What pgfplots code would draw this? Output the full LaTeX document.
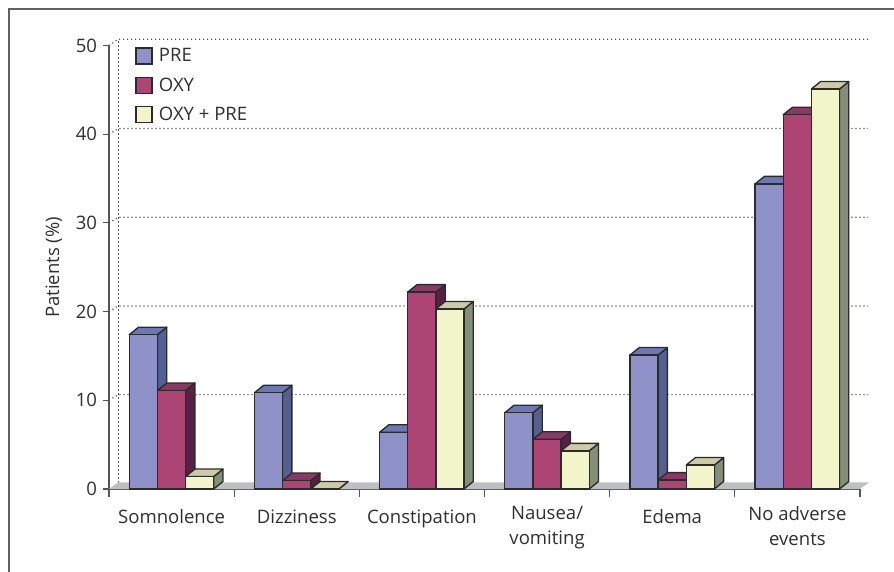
\documentclass[border=0pt]{standalone}
\usepackage{pgfplots}
\pgfplotsset{compat=1.18}
\usepackage{fontspec}
\setmainfont{Open Sans}
\definecolor{txt}{HTML}{2F2F2F}
\definecolor{edge}{HTML}{2B2B2B}
\definecolor{axc}{HTML}{555555}
\definecolor{floorc}{HTML}{BEBFC0}
\definecolor{aF}{HTML}{8E92C8}\definecolor{aS}{HTML}{556092}\definecolor{aT}{HTML}{6C78B4}
\definecolor{bF}{HTML}{AC4474}\definecolor{bS}{HTML}{5A1F45}\definecolor{bT}{HTML}{883A66}
\definecolor{cF}{HTML}{F2F4CA}\definecolor{cS}{HTML}{858F77}\definecolor{cT}{HTML}{CECAA8}
% depth of the 3D offset, in axis units
\def\dX{0.0743}
\def\dY{0.846}
\def\bW{0.2248}
\newcommand{\tdbar}[3]{% left x, value, colour letter
  \pgfmathsetmacro\xa{#1}
  \pgfmathsetmacro\xb{#1+\bW}
  \pgfmathsetmacro\xc{#1+\bW+\dX}
  \pgfmathsetmacro\xd{#1+\dX}
  \pgfmathsetmacro\ya{#2}
  \pgfmathsetmacro\yb{#2+\dY}
  \edef\temp{\noexpand\addplot[forget plot,draw=edge,line width=1pt,line join=round,fill=#3S] coordinates {(\xb,0) (\xc,\dY) (\xc,\yb) (\xb,\ya)} --cycle;
  \noexpand\addplot[forget plot,draw=edge,line width=1pt,line join=round,fill=#3T] coordinates {(\xa,\ya) (\xd,\yb) (\xc,\yb) (\xb,\ya)} --cycle;
  \noexpand\addplot[forget plot,draw=edge,line width=1pt,line join=round,fill=#3F] coordinates {(\xa,0) (\xa,\ya) (\xb,\ya) (\xb,0)} --cycle;}
  \temp
}
\newcommand{\tdgroup}[4]{% group left x, three values
  \tdbar{#1}{#2}{a}
  \pgfmathsetmacro\xq{#1+\bW}\edef\xqa{\xq}\tdbar{\xqa}{#3}{b}
  \pgfmathsetmacro\xq{#1+2*\bW}\edef\xqb{\xq}\tdbar{\xqb}{#4}{c}
}
\tikzset{griddot/.style={axc,line width=0.9pt,dash pattern=on 0.9pt off 2.1pt}}
\newcommand{\lw}{\rule{0pt}{12.9pt}}
\begin{document}
\begin{tikzpicture}
\useasboundingbox (0,0) rectangle (670.5pt,429pt);
\draw[black!62,line width=1.5pt] (7.1pt,0) -- (7.1pt,421.9pt) -- (670.5pt,421.9pt);
\begin{axis}[
  at={(81.75pt,62.25pt)},anchor=south west,
  scale only axis,width=563.25pt,height=332.6pt,
  clip=false,
  axis lines=left,
  axis line style={-,draw=axc,line width=0.8pt},
  xmin=0,xmax=6,ymin=0,ymax=50,
  xtick={0.5,1.5,2.5,3.5,4.5,5.5},
  xticklabels={\lw Somnolence,\lw Dizziness,\lw Constipation,{Nausea/\\vomiting},\lw Edema,{No adverse\\events}},
  minor xtick={0,1,2,3,4,5,6},
  major x tick style={draw=none},
  minor x tick style={draw=axc,line width=0.8pt},
  minor tick length=6pt,
  ytick={0,10,20,30,40,50},
  major y tick style={draw=axc,line width=0.8pt},
  major tick length=4.5pt,
  tick align=outside,
  x tick label style={font=\fontsize{13.9}{18.75}\selectfont,text=txt,align=center,anchor=north,yshift=-5.25pt},
  y tick label style={font=\fontsize{13.9}{16}\selectfont,text=txt,xshift=-1pt},
  /pgf/number format/assume math mode=true,
  ylabel={Patients (\%)},
  ylabel style={font=\fontsize{13.9}{16}\selectfont,text=txt,yshift=3.5pt},
  legend style={at={(rel axis cs:0.0348,1.0)},anchor=north west,draw=none,fill=none,
    font=\fontsize{13.9}{16}\selectfont,text=txt,row sep=6.4pt,inner sep=0pt,
    /tikz/every even column/.append style={column sep=0pt}},
  legend image code/.code={\draw[#1,line width=0.9pt] (0,-6pt) rectangle (12pt,6pt); \path (15pt,0);},
  legend cell align=left,
]
% back wall grid
\addplot[forget plot,griddot] coordinates {(0.0743,0.72) (0.0743,50.72)};
\addplot[forget plot,griddot] coordinates {(0,10) (0.0743,10.64) (6.065,10.64)};
\addplot[forget plot,griddot] coordinates {(0,20) (0.0743,20.64) (6.065,20.64)};
\addplot[forget plot,griddot] coordinates {(0,30) (0.0743,30.64) (6.065,30.64)};
\addplot[forget plot,griddot] coordinates {(0,40) (0.0743,40.64) (6.065,40.64)};
\addplot[forget plot,griddot] coordinates {(0,50) (0.0743,50.72) (6.065,50.72)};
% floor
\addplot[forget plot,draw=none,fill=floorc] coordinates {(0,0) (0.0743,0.76) (6.0743,0.76) (6,0)} --cycle;
% bars
\tdgroup{0.162}{17.4}{11.1}{1.4}
\tdgroup{1.162}{10.85}{0.95}{0}
\tdgroup{2.162}{6.4}{22.2}{20.3}
\tdgroup{3.162}{8.6}{5.6}{4.3}
\tdgroup{4.162}{15.1}{1.0}{2.7}
\tdgroup{5.162}{34.4}{42.2}{45.1}
\addlegendimage{draw=edge,fill=aF}
\addlegendentry{PRE}
\addlegendimage{draw=edge,fill=bF}
\addlegendentry{OXY}
\addlegendimage{draw=edge,fill=cF}
\addlegendentry{OXY + PRE}
\end{axis}
\end{tikzpicture}
\end{document}
